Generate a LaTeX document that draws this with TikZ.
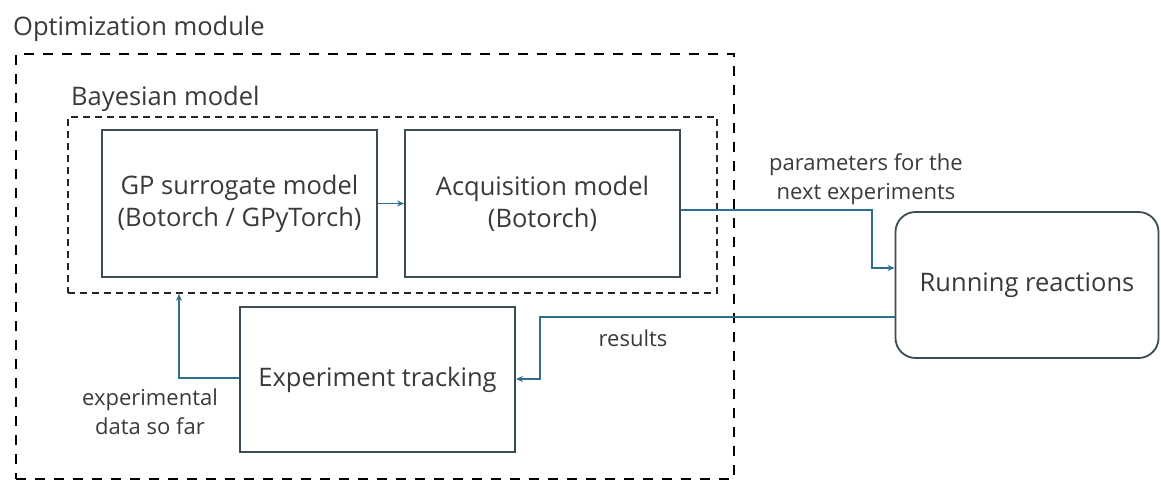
\documentclass[tikz,border=0pt]{standalone}
\usepackage{fontspec}
\setmainfont{Open Sans}
\usetikzlibrary{arrows.meta}
\definecolor{txt}{HTML}{3A3A3A}
\definecolor{boxc}{HTML}{3C4C54}
\definecolor{conn}{HTML}{2F6E8C}
\tikzset{
  mainbox/.style={draw=boxc, line width=1.8pt, fill=white, align=center, text=txt, inner sep=0pt,
    font=\fontsize{25.5}{32}\selectfont},
  roundbox/.style={mainbox, rounded corners=20pt},
  outerdash/.style={draw=black, line width=2.6pt, dash pattern=on 10pt off 9pt, inner sep=0pt},
  innerdash/.style={draw=black!85, line width=1.6pt, dash pattern=on 7pt off 5pt, inner sep=0pt},
  title/.style={text=txt, font=\fontsize{25.5}{28}\selectfont, anchor=west, inner sep=0pt},
  lbl/.style={text=txt, font=\fontsize{22}{29}\selectfont, align=center, inner sep=0pt},
  connector/.style={draw=conn, line width=1.4pt, -{Stealth[length=7pt,width=6pt]}}
}
\begin{document}
\begin{tikzpicture}[x=1pt,y=-1pt]
\useasboundingbox (0,0) rectangle (1161,480);
% outer & inner dashed boxes
\node[outerdash, minimum width=718pt, minimum height=425pt] (opt) at (375,266.5) {};
\node[title] (optt) at (13,29) {Optimization module};
\node[innerdash, minimum width=649pt, minimum height=176pt] (bayes) at (392.5,205) {};
\node[title] (bayest) at (71,99) {Bayesian model};
% boxes
\node[mainbox, minimum width=275pt, minimum height=147pt] (gp) at (239.5,203.5) {GP surrogate model\\(Botorch / GPyTorch)};
\node[mainbox, minimum width=275pt, minimum height=147pt] (acq) at (542.5,203.5) {Acquisition model\\(Botorch)};
\node[mainbox, minimum width=275pt, minimum height=145pt] (exp) at (377.5,379.5) {Experiment tracking};
\node[roundbox, minimum width=263pt, minimum height=146pt] (run) at (1027,285) {Running reactions};
% connectors
\draw[connector] (gp.east) -- (acq.west);
\coordinate (a1) at (872,210);
\coordinate (a2) at (872,268);
\draw[connector] (acq.east |- a1) -- (a1) -- (a2) -- (run.west |- a2);
\coordinate (b1) at (540,317);
\coordinate (b2) at (540,379);
\draw[connector] (run.west |- b1) -- (b1) -- (b2) -- (exp.east |- b2);
\coordinate (c1) at (179,378);
\draw[connector] (exp.west |- c1) -- (c1) -- (c1 |- bayes.south);
% labels
\node[lbl] (lp) at (866,179) {parameters for the\\next experiments};
\node[lbl] (lr) at (633,338) {results};
\node[lbl] (le) at (150,412) {experimental\\data so far};
\end{tikzpicture}
\end{document}
